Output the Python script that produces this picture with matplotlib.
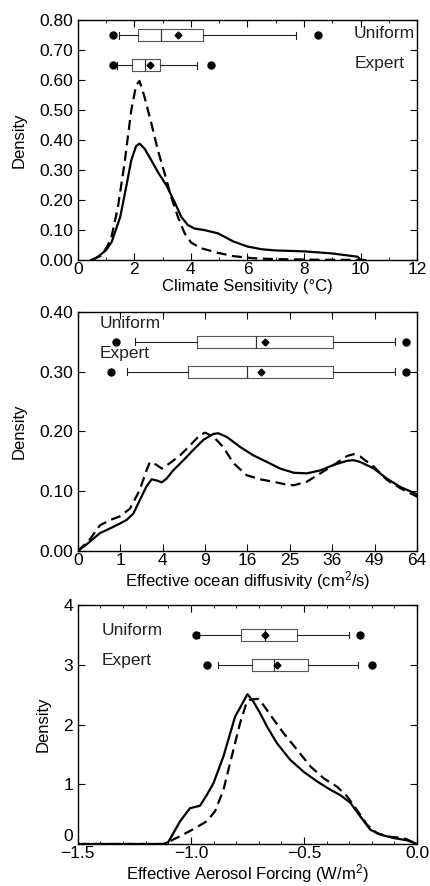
import numpy as np
import matplotlib
matplotlib.use('Agg')
import matplotlib.pyplot as plt
from matplotlib.ticker import MultipleLocator, FixedLocator, FuncFormatter

plt.rcParams['font.family'] = ['Liberation Sans', 'DejaVu Sans']
plt.rcParams['mathtext.default'] = 'regular'
plt.rcParams['font.size'] = 12

# ---- Panel 1: climate sensitivity (deg C) ----
cs_uni_x = [0.47, 0.7, 1.0, 1.2, 1.5, 1.71, 1.89, 2.06, 2.18, 2.36, 2.6, 2.83, 3.13, 3.42,
            3.66, 3.89, 4.13, 4.48, 4.96, 5.5, 6.0, 6.5, 7.0, 8.0, 9.0, 9.9, 10.0]
cs_uni_y = [0.0, 0.010, 0.033, 0.061, 0.144, 0.244, 0.333, 0.38, 0.389, 0.372, 0.333, 0.294,
            0.25, 0.194, 0.144, 0.117, 0.105, 0.10, 0.089, 0.062, 0.045, 0.036, 0.032, 0.029,
            0.022, 0.011, 0.0]
cs_exp_x = [0.5, 0.8, 1.0, 1.18, 1.42, 1.65, 1.89, 2.06, 2.18, 2.36, 2.6, 2.83, 3.07, 3.30,
            3.54, 3.78, 4.01, 4.37, 4.96, 5.5, 6.2, 7.0, 8.5, 10.4]
cs_exp_y = [0.0, 0.014, 0.039, 0.072, 0.178, 0.322, 0.50, 0.583, 0.598, 0.544, 0.456, 0.367,
            0.289, 0.211, 0.144, 0.089, 0.058, 0.039, 0.024, 0.013, 0.006, 0.003, 0.001, 0.0]
cs_uni_box = dict(whislo=1.46, q1=2.13, med=2.94, mean=3.53, q3=4.41, whishi=7.71,
                  fliers=[1.23, 8.50])
cs_exp_box = dict(whislo=1.37, q1=1.92, med=2.36, mean=2.54, q3=2.92, whishi=4.22,
                  fliers=[1.23, 4.70])

# ---- Panel 2: effective ocean diffusivity (cm2/s), sqrt axis ----
kv_uni_x = [0, 0.08, 0.27, 0.58, 0.98, 1.32, 1.72, 2.13, 2.62, 3.03, 3.46, 3.92, 4.37, 5.06,
            6.20, 7.40, 8.76, 10.24, 10.96, 12.32, 14.67, 17.14, 19.89, 22.75, 25.91, 29.16,
            32.72, 36.36, 40.32, 42.25, 44.36, 48.72, 53.14, 57.91, 64.0]
kv_uni_y = [0, 0.0156, 0.030, 0.038, 0.046, 0.052, 0.063, 0.085, 0.108, 0.120, 0.118, 0.115,
            0.121, 0.135, 0.152, 0.169, 0.186, 0.196, 0.197, 0.191, 0.174, 0.160, 0.149, 0.138,
            0.131, 0.130, 0.135, 0.144, 0.151, 0.152, 0.149, 0.138, 0.121, 0.107, 0.095]
kv_exp_x = [0, 0.08, 0.27, 0.58, 0.98, 1.51, 2.13, 2.62, 2.89, 3.46, 3.92, 4.71, 5.81, 7.02,
            8.29, 9.0, 10.24, 11.76, 13.47, 15.84, 18.49, 21.25, 24.30, 25.91, 29.16, 32.72,
            36.36, 40.32, 42.25, 44.36, 48.72, 53.14, 57.91, 64.0]
kv_exp_y = [0, 0.0195, 0.043, 0.052, 0.058, 0.071, 0.102, 0.135, 0.149, 0.144, 0.138, 0.147,
            0.160, 0.177, 0.194, 0.198, 0.191, 0.174, 0.147, 0.127, 0.120, 0.116, 0.111, 0.110,
            0.116, 0.130, 0.144, 0.159, 0.162, 0.158, 0.141, 0.119, 0.105, 0.091]
kv_uni_box = dict(whislo=1.82, q1=7.9, med=17.6, mean=19.4, q3=36.1, whishi=55.8,
                  fliers=[0.81, 59.9])
kv_exp_box = dict(whislo=1.32, q1=6.8, med=16.0, mean=18.6, q3=36.1, whishi=55.8,
                  fliers=[0.62, 59.9])

# ---- Panel 3: effective aerosol forcing (W/m2) ----
af_uni_x = [-1.5, -1.12, -1.10, -1.048, -1.004, -0.96, -0.93, -0.90, -0.856, -0.805, -0.78,
            -0.75, -0.723, -0.694, -0.664, -0.62, -0.561, -0.502, -0.443, -0.384, -0.34,
            -0.295, -0.251, -0.207, -0.162, -0.103, -0.044, 0.0]
af_uni_y = [0.0, 0.0, 0.033, 0.38, 0.60, 0.64, 0.82, 1.02, 1.47, 2.13, 2.30, 2.51, 2.38, 2.19,
            1.97, 1.69, 1.41, 1.21, 1.05, 0.91, 0.82, 0.69, 0.46, 0.24, 0.156, 0.10, 0.061, 0.0]
af_exp_x = [-1.5, -1.12, -1.048, -0.989, -0.93, -0.893, -0.856, -0.812, -0.783, -0.753,
            -0.736, -0.702, -0.68, -0.643, -0.591, -0.531, -0.472, -0.413, -0.354, -0.31,
            -0.266, -0.221, -0.177, -0.118, -0.059, 0.0]
af_exp_y = [0.0, 0.0, 0.13, 0.25, 0.38, 0.55, 0.91, 1.58, 2.02, 2.38, 2.42, 2.43, 2.33, 2.13,
            1.86, 1.58, 1.30, 1.10, 0.96, 0.80, 0.57, 0.32, 0.18, 0.12, 0.10, 0.0]
af_uni_box = dict(whislo=-0.963, q1=-0.780, med=-0.672, mean=-0.672, q3=-0.531, whishi=-0.301,
                  fliers=[-0.979, -0.251])
af_exp_box = dict(whislo=-0.881, q1=-0.731, med=-0.632, mean=-0.620, q3=-0.483, whishi=-0.261,
                  fliers=[-0.930, -0.199])

fig = plt.figure(figsize=(4.3, 8.86), dpi=100)
axes = [fig.add_axes([0.181, 0.7065, 0.789, 0.2705]),
        fig.add_axes([0.181, 0.378, 0.789, 0.270]),
        fig.add_axes([0.181, 0.0474, 0.789, 0.2696])]


def boxes(ax, uni, exp, y_uni, y_exp, h):
    stats = [dict(exp, label=''), dict(uni, label='')]
    ax.bxp(stats, positions=[y_exp, y_uni], widths=h, capwidths=h * 0.55,
           orientation='horizontal', showmeans=True, manage_ticks=False,
           boxprops=dict(color='#555555', lw=0.8),
           whiskerprops=dict(color='#222222', lw=0.8),
           capprops=dict(color='#222222', lw=0.8),
           medianprops=dict(color='#333333', lw=0.9),
           meanprops=dict(marker='D', markerfacecolor='black', markeredgecolor='black',
                          markersize=3.5),
           flierprops=dict(marker='o', markerfacecolor='black', markeredgecolor='black',
                           markersize=5))


def style(ax):
    ax.tick_params(which='both', direction='in', top=True, right=True, labelsize=12.5)
    ax.tick_params(axis='x', pad=1.5)
    ax.tick_params(which='major', length=5)
    ax.tick_params(which='minor', length=2.5)
    for s in ax.spines.values():
        s.set_linewidth(1.0)
    ax.set_ylabel('Density', fontsize=12, labelpad=9)


dash = (0, (4.5, 2.5))

# Panel 1
ax = axes[0]
ax.plot(cs_uni_x, cs_uni_y, color='black', lw=1.6)
ax.plot(cs_exp_x, cs_exp_y, color='black', lw=1.6, linestyle=dash)
boxes(ax, cs_uni_box, cs_exp_box, 0.75, 0.65, 0.04)
ax.text(9.75, 0.755, 'Uniform', ha='left', va='center', fontsize=12.5, color='#222222')
ax.text(9.8, 0.657, 'Expert', ha='left', va='center', fontsize=12.5, color='#222222')
ax.set_xlim(0, 12)
ax.set_ylim(0, 0.8)
ax.xaxis.set_major_locator(MultipleLocator(2))
ax.xaxis.set_minor_locator(MultipleLocator(1))
ax.yaxis.set_major_locator(MultipleLocator(0.1))
ax.yaxis.set_major_formatter(FuncFormatter(lambda v, p: f'{v:.2f}'))
ax.set_xlabel('Climate Sensitivity (°C)', fontsize=12, labelpad=1)
style(ax)

# Panel 2
ax = axes[1]
ax.set_xscale('function', functions=(lambda v: np.sqrt(np.clip(v, 0, None)), np.square))
ax.plot(kv_uni_x, kv_uni_y, color='black', lw=1.6)
ax.plot(kv_exp_x, kv_exp_y, color='black', lw=1.6, linestyle=dash)
boxes(ax, kv_uni_box, kv_exp_box, 0.35, 0.30, 0.02)
ax.text(0.27, 0.381, 'Uniform', ha='left', va='center', fontsize=12.5, color='#222222')
ax.text(0.27, 0.330, 'Expert', ha='left', va='center', fontsize=12.5, color='#222222')
ax.set_xlim(0, 64)
ax.set_ylim(0, 0.4)
ax.xaxis.set_major_locator(FixedLocator([0, 1, 4, 9, 16, 25, 36, 49, 64]))
ax.xaxis.set_major_formatter(FuncFormatter(lambda v, p: f'{v:.0f}'))
ax.xaxis.set_minor_locator(FixedLocator([]))
ax.yaxis.set_major_locator(MultipleLocator(0.1))
ax.yaxis.set_major_formatter(FuncFormatter(lambda v, p: f'{v:.2f}'))
ax.set_xlabel('Effective ocean diffusivity (cm$^{2}$/s)', fontsize=12, labelpad=1)
style(ax)

# Panel 3
ax = axes[2]
ax.plot(af_uni_x, af_uni_y, color='black', lw=1.6)
ax.plot(af_exp_x, af_exp_y, color='black', lw=1.6, linestyle=dash)
boxes(ax, af_uni_box, af_exp_box, 3.5, 3.0, 0.2)
ax.text(-1.394, 3.58, 'Uniform', ha='left', va='center', fontsize=12.5, color='#222222')
ax.text(-1.394, 3.08, 'Expert', ha='left', va='center', fontsize=12.5, color='#222222')
ax.set_xlim(-1.5, 0.0)
ax.set_ylim(0, 4)
ax.xaxis.set_major_locator(MultipleLocator(0.5))
ax.xaxis.set_minor_locator(MultipleLocator(0.1))
ax.xaxis.set_major_formatter(FuncFormatter(lambda v, p: f'{v:.1f}'.replace('-', '\u2212')))
ax.yaxis.set_major_locator(FixedLocator([0, 1, 2, 3, 4]))
ax.yaxis.set_major_formatter(FuncFormatter(lambda v, p: f'{v:.0f}'))
ax.set_xlabel('Effective Aerosol Forcing (W/m$^{2}$)', fontsize=12, labelpad=1)
style(ax)

# lift the "0" label a little so it clears the -1.5 below it
fig.canvas.draw()
for lab in ax.get_yticklabels():
    if lab.get_text() == '0':
        lab.set_verticalalignment('bottom')

fig.savefig('out.png', dpi=100)
